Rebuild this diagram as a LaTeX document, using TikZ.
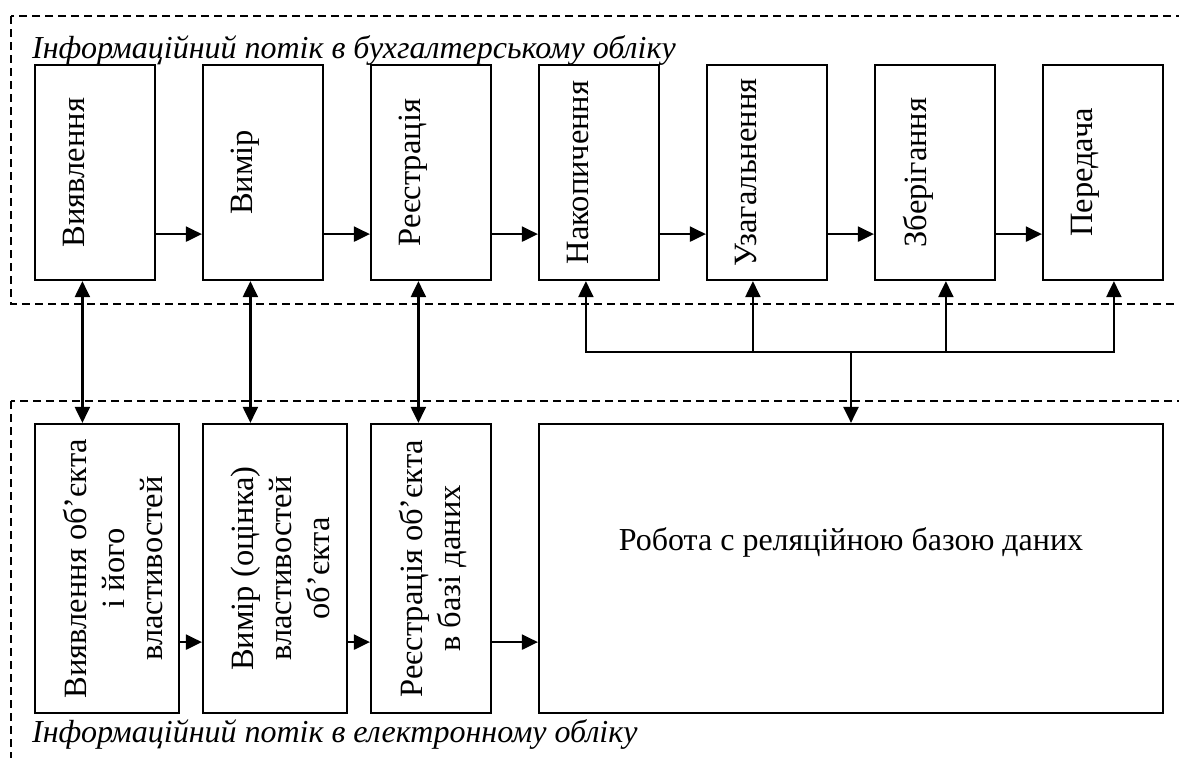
\documentclass[tikz,border=0pt]{standalone}
\usepackage{fontspec}
\setmainfont{Liberation Serif}
\usetikzlibrary{arrows.meta}
\begin{document}
\begin{tikzpicture}[x=1pt,y=-1pt,
 box/.style={draw, line width=2.2pt, inner sep=0pt},
 dframe/.style={draw, line width=1.8pt, dash pattern=on 8pt off 5pt},
 arr/.style={line width=2.2pt, -{Triangle[length=16pt,width=15pt]}},
 darr/.style={line width=2.2pt, {Triangle[length=16pt,width=15pt]}-{Triangle[length=16pt,width=15pt]}},
 vlab/.style={rotate=90, anchor=north, inner sep=0pt, align=center, font=\fontsize{32.5}{38}\selectfont},
 hlab/.style={inner sep=0pt, font=\fontsize{32}{38}\selectfont},
 ttl/.style={inner sep=0pt, anchor=base west, font=\fontsize{32}{38}\selectfont\itshape}]
\clip (0,0) rectangle (1179,758);
% dashed frames
\draw[dframe] (11,16) rectangle (1200,304);
\draw[dframe] (11,401) rectangle (1200,800);
% titles
\node[ttl] (title1) at (32,58) {Інформаційний потік в бухгалтерському обліку};
\node[ttl] (title2) at (32,742) {Інформаційний потік в електронному обліку};
% top row
\node[box, minimum width=120pt, minimum height=215pt] (b1) at (95,172.5) {};
\node[box, minimum width=120pt, minimum height=215pt] (b2) at (263,172.5) {};
\node[box, minimum width=120pt, minimum height=215pt] (b3) at (431,172.5) {};
\node[box, minimum width=120pt, minimum height=215pt] (b4) at (599,172.5) {};
\node[box, minimum width=120pt, minimum height=215pt] (b5) at (767,172.5) {};
\node[box, minimum width=120pt, minimum height=215pt] (b6) at (935,172.5) {};
\node[box, minimum width=120pt, minimum height=215pt] (b7) at (1103,172.5) {};
\node[vlab] (t1) at ([xshift=29pt]b1.west) {Виявлення};
\node[vlab] (t2) at ([xshift=29pt]b2.west) {Вимір};
\node[vlab] (t3) at ([xshift=29pt]b3.west) {Реєстрація};
\node[vlab] (t4) at ([xshift=29pt]b4.west) {Накопичення};
\node[vlab] (t5) at ([xshift=29pt]b5.west) {Узагальнення};
\node[vlab] (t6) at ([xshift=29pt]b6.west) {Зберігання};
\node[vlab] (t7) at ([xshift=29pt]b7.west) {Передача};
% bottom row
\node[box, minimum width=144pt, minimum height=289pt] (l1) at (107,568.5) {};
\node[box, minimum width=144pt, minimum height=289pt] (l2) at (275,568.5) {};
\node[box, minimum width=120pt, minimum height=289pt] (l3) at (431,568.5) {};
\node[box, minimum width=624pt, minimum height=289pt] (l4) at (851,568.5) {};
\node[vlab] (u1) at ([xshift=29pt]l1.west) {Виявлення об’єкта\\і його\\властивостей};
\node[vlab] (u2) at ([xshift=29pt]l2.west) {Вимір (оцінка)\\властивостей\\об’єкта};
\node[vlab] (u3) at ([xshift=29pt]l3.west) {Реєстрація об’єкта\\в базі даних};
\node[hlab, anchor=base] (u4) at ([yshift=-128pt]l4.north) {Робота с реляційною базою даних};
% top row arrows
\draw[arr] ([yshift=47pt]b1.south east) -- ([yshift=47pt]b2.south west);
\draw[arr] ([yshift=47pt]b2.south east) -- ([yshift=47pt]b3.south west);
\draw[arr] ([yshift=47pt]b3.south east) -- ([yshift=47pt]b4.south west);
\draw[arr] ([yshift=47pt]b4.south east) -- ([yshift=47pt]b5.south west);
\draw[arr] ([yshift=47pt]b5.south east) -- ([yshift=47pt]b6.south west);
\draw[arr] ([yshift=47pt]b6.south east) -- ([yshift=47pt]b7.south west);
% bottom row arrows
\draw[arr] ([yshift=72pt]l1.south east) -- ([yshift=72pt]l2.south west);
\draw[arr] ([yshift=72pt]l2.south east) -- ([yshift=72pt]l3.south west);
\draw[arr] ([yshift=72pt]l3.south east) -- ([yshift=72pt]l4.south west);
% vertical links
\draw[darr] ([xshift=48.5pt]b1.south west) -- ([xshift=48.5pt]l1.north west);
\draw[darr] ([xshift=48.5pt]b2.south west) -- ([xshift=48.5pt]l2.north west);
\draw[darr] ([xshift=48.5pt]b3.south west) -- ([xshift=48.5pt]l3.north west);
% bus
\path (l4.north) ++(0,-71) coordinate (bus);
\draw[arr] (bus) -- (l4.north);
\draw[arr] (bus) -| ([xshift=48pt]b4.south west);
\draw[arr] (bus) -| ([xshift=47pt]b5.south west);
\draw[arr] (bus) -| ([xshift=72pt]b6.south west);
\draw[arr] (bus) -| ([xshift=72pt]b7.south west);
\end{tikzpicture}
\end{document}
